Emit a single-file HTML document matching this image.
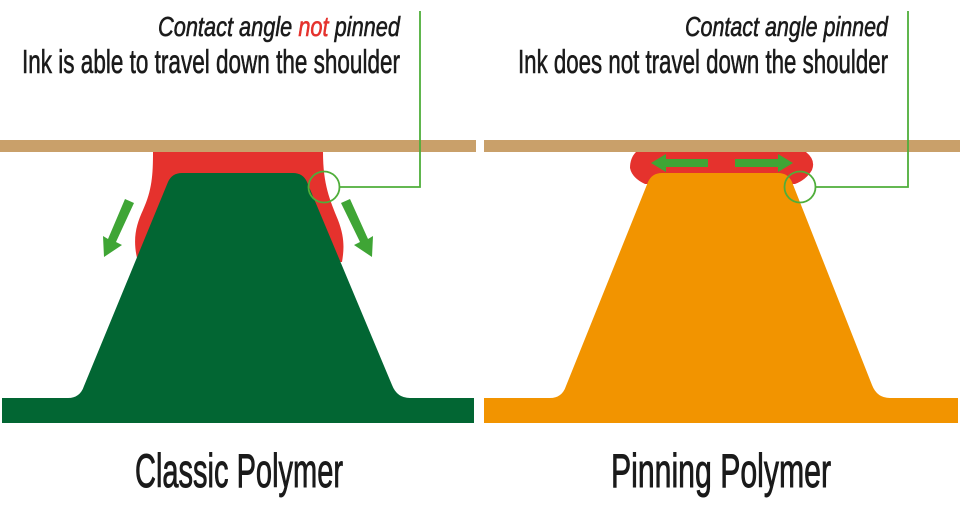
<!DOCTYPE html>
<html><head><meta charset="utf-8"><style>html,body{margin:0;padding:0;background:#fff}</style></head>
<body>
<svg width="960" height="504" viewBox="0 0 960 504" xmlns="http://www.w3.org/2000/svg" font-family="Liberation Sans, sans-serif">
<!-- left -->
<rect x="0" y="140" width="476" height="12" fill="#c9a06a"/>
<path d="M153,152 L323,152 C323,185 330,200 338,220 C345,238 344,250 342,262 L138,262 C132,240 136,225 143,210 C152,190 153,175 153,152 Z" fill="#e5322d"/>
<path d="M182,173 L293,173 Q303,173 307,182 L392,385 Q397,398 410,398 L474,398 L474,423 L2,423 L2,398 L68,398 Q80,398 84,386 L168,182 Q172,173 182,173 Z" fill="#026633"/>
<polygon points="125,199 134,203 116,242 122,245 104,257 103,236 108,239" fill="#3fa535"/>
<polygon points="341,203 350,199 368,239 373,236 372,257 354,245 360,242" fill="#3fa535"/>
<circle cx="324" cy="187" r="15.5" fill="none" stroke="#4fae3a" stroke-width="1.8"/>
<polyline points="340,187 420,187 420,11" fill="none" stroke="#4fae3a" stroke-width="1.8"/>
<g stroke="#1a1a1a" stroke-width="0.6">
<text x="400" y="36" text-anchor="end" font-size="28" font-style="italic" textLength="242" lengthAdjust="spacingAndGlyphs" fill="#1a1a1a">Contact angle <tspan fill="#e5322d" stroke="#e5322d">not</tspan> pinned</text>
<text x="400" y="73" text-anchor="end" font-size="33" textLength="378" lengthAdjust="spacingAndGlyphs" fill="#1a1a1a">Ink is able to travel down the shoulder</text>
<text x="239" y="487" text-anchor="middle" font-size="47" textLength="208" lengthAdjust="spacingAndGlyphs" fill="#1a1a1a" stroke-width="0.9">Classic Polymer</text>
<text x="888" y="36" text-anchor="end" font-size="28" font-style="italic" textLength="203" lengthAdjust="spacingAndGlyphs" fill="#1a1a1a">Contact angle pinned</text>
<text x="888" y="73" text-anchor="end" font-size="33" textLength="370" lengthAdjust="spacingAndGlyphs" fill="#1a1a1a">Ink does not travel down the shoulder</text>
<text x="721" y="487" text-anchor="middle" font-size="47" textLength="220" lengthAdjust="spacingAndGlyphs" fill="#1a1a1a" stroke-width="0.9">Pinning Polymer</text>
</g>
<!-- right -->
<rect x="484" y="140" width="476" height="12" fill="#c9a06a"/>
<path d="M636,152 L806,152 Q816,160 812,170 Q806,180 795,184 L645,184 Q632,178 630,168 Q630,158 636,152 Z" fill="#e5322d"/>
<path d="M662,173 L778,173 Q788,173 792,182 L872,385 Q877,398 890,398 L958,398 L958,423 L484,423 L484,398 L550,398 Q562,398 566,386 L648,182 Q652,173 662,173 Z" fill="#f29400"/>
<polygon points="651,163 666,154 666,159 708,159 708,167 666,167 666,172" fill="#3fa535"/>
<polygon points="793,163 778,154 778,159 735,159 735,167 778,167 778,172" fill="#3fa535"/>
<circle cx="800" cy="187" r="15.5" fill="none" stroke="#4fae3a" stroke-width="1.8"/>
<polyline points="816,187 908,187 908,11" fill="none" stroke="#4fae3a" stroke-width="1.8"/>
</svg>
</body></html>
